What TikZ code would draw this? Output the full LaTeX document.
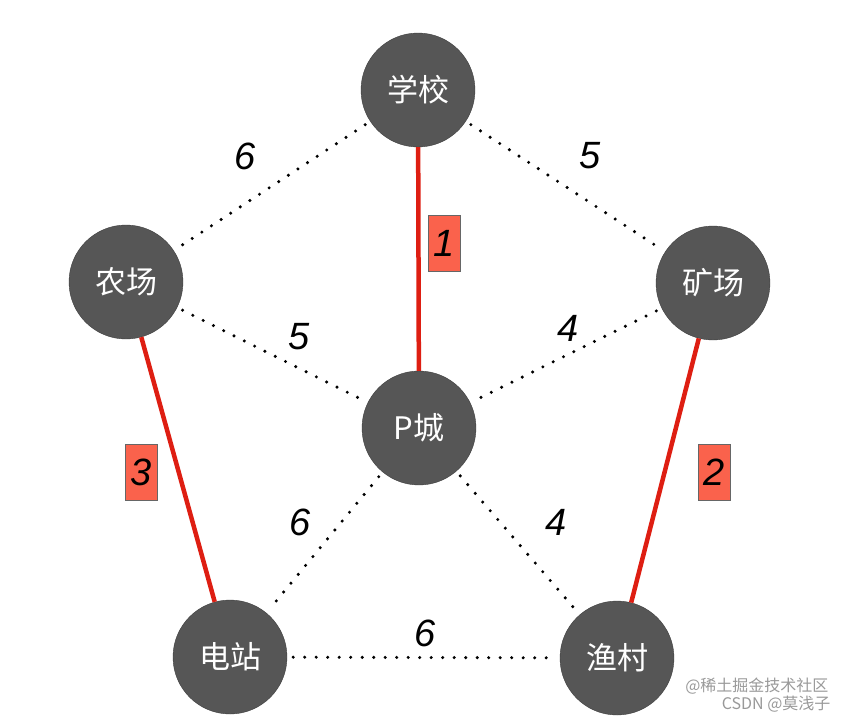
\documentclass[tikz,border=0pt]{standalone}
\usepackage{fontspec}
\setmainfont{Liberation Sans}
\newfontfamily\cjk{Noto Sans CJK SC}
\usepackage{xcolor}
\usepackage{tikz}
\usetikzlibrary{positioning}

\definecolor{citygray}{RGB}{86,86,86}
\definecolor{treered}{RGB}{222,30,18}
\definecolor{tagred}{RGB}{250,98,76}

\begin{document}
\begin{tikzpicture}[
    x=1pt, y=-1pt,
    city/.style={draw=black!75, fill=citygray, circle, minimum size=114pt, inner sep=0pt, text=white, font=\cjk\fontsize{31}{31}\selectfont},
    road/.style={line width=3.4pt, dash pattern=on 0pt off 11.5pt, line cap=round, shorten >=6pt, shorten <=6pt},
    tree/.style={draw=treered, line width=4.5pt},
    cost/.style={font=\itshape\fontsize{38}{38}\selectfont},
    pick/.style={draw=black!60, fill=tagred, minimum width=32pt, minimum height=56pt, inner sep=0pt, font=\itshape\fontsize{38}{38}\selectfont},
    stamp/.style={text=black!40, font=\cjk\fontsize{16}{16}\selectfont}
]
\useasboundingbox (0,0) rectangle (849,716);

\node[city] (school) at (418,90) {学校};
\node[city] (farm) at (126,282) {农场};
\node[city] (mine) at (713,283) {矿场};
\node[city] (pcity) at (419,428) {P城};
\node[city] (power) at (230,657) {电站};
\node[city] (fish) at (617,658) {渔村};

% dotted roads
\draw[road] (school) -- (farm);
\draw[road] (school) -- (mine);
\draw[road] (farm) -- (pcity);
\draw[road] (mine) -- (pcity);
\draw[road] (pcity) -- (power);
\draw[road] (pcity) -- (fish);
\draw[road] (power) -- (fish);

% chosen roads
\draw[tree] (school) -- (pcity);
\draw[tree] (mine) -- (fish);
\draw[tree] (farm) -- (power);

\node[cost] (c1) at (245,156) {6};
\node[cost] (c2) at (590,156) {5};
\node[cost] (c3) at (299,337) {5};
\node[cost] (c4) at (568,328) {4};
\node[cost] (c5) at (300,522) {6};
\node[cost] (c6) at (556,522) {4};
\node[cost] (c7) at (425,633) {6};

\node[pick] (t1) at (444,243) {1};
\node[pick] (t2) at (714,472) {2};
\node[pick] (t3) at (141,472) {3};

\node[stamp, anchor=east] (wm1) at (832,686) {@稀土掘金技术社区};
\node[stamp, anchor=east] (wm2) at (834,704) {CSDN @莫浅子};

\end{tikzpicture}
\end{document}
